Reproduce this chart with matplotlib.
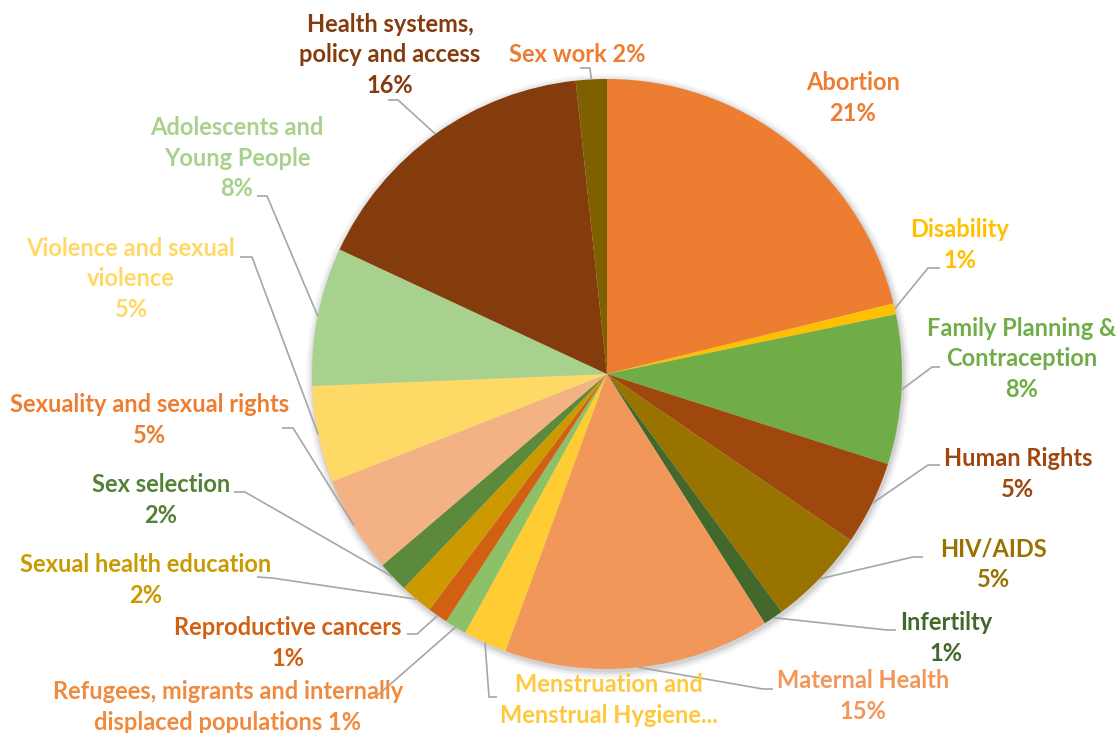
import numpy as np
import matplotlib
matplotlib.use("Agg")
import matplotlib.pyplot as plt
from matplotlib.patches import Circle

# ---- data ----
categories = ["Abortion", "Disability", "Family Planning &\nContraception", "Human Rights",
              "HIV/AIDS", "Infertilty", "Maternal Health", "Menstruation and\nMenstrual Hygiene...",
              "Refugees, migrants and internally\ndisplaced populations", "Reproductive cancers",
              "Sexual health education", "Sex selection", "Sexuality and sexual rights",
              "Violence and sexual\nviolence", "Adolescents and\nYoung People",
              "Health systems,\npolicy and access", "Sex work"]
values = [21.2, 0.6, 8.2, 4.6, 5.4, 1.1, 14.6, 2.4, 1.2, 1.1, 1.8, 1.7, 5.3, 5.3, 7.6, 16.4, 1.7]
colors = ["#ED7D31", "#FFC000", "#70AD47", "#9E480E", "#997300", "#43682B", "#F1975A",
          "#FFCD33", "#8CC168", "#D26012", "#CC9A00", "#5B8A3C", "#F4B183", "#FFD966",
          "#A9D18E", "#843C0C", "#7F6000"]
label_colors = ["#ED7D31", "#FFC000", "#70AD47", "#9E480E", "#997300", "#43682B", "#F1975A",
                "#FFC83D", "#F08A3E", "#D26012", "#C99A00", "#548235", "#ED7D31", "#FFD966",
                "#A9D18E", "#843C0C", "#ED7D31"]
# percentage placement: "nl" on next line, "sp" same line, "" none shown
pct_mode = ["nl"] * 17
pct_mode[7] = ""
pct_mode[8] = "sp"
pct_mode[16] = "sp"

W, H = 1117, 733
fig = plt.figure(figsize=(W / 100, H / 100), dpi=100)
ax = fig.add_axes([0, 0, 1, 1])

def P(x, y):
    return (x, H - y)

cx, cy = P(607, 374)
R = 295

# soft shadow
for dr, a in [(7, 0.03), (5, 0.04), (3, 0.05), (1.5, 0.06)]:
    ax.add_patch(Circle((cx + 1, cy - 2), R + dr, color="#000000", alpha=a, lw=0, zorder=0))

wedges, _ = ax.pie(values, colors=colors, startangle=90, counterclock=False,
                   center=(cx, cy), radius=R, frame=True,
                   wedgeprops=dict(linewidth=0, zorder=2))
ax.set_xlim(0, W)
ax.set_ylim(0, H)
ax.set_aspect("equal")
ax.axis("off")

total = sum(values)
# label layout: text center (pixel), leader elbow, leader end (pixel) or None
layout = [
    ((853, 98), None, None),
    ((960, 245), (928, 268), (940, 268)),
    ((1022, 359), (932, 367), (940, 367)),
    ((1018, 474), (928, 465), (940, 465)),
    ((993, 564), (913, 557), (923, 557)),
    ((946, 638), (887, 630), (896, 630)),
    ((863, 696), (763, 689), (773, 689)),
    ((609, 700), (489, 697), (497, 697)),
    ((228, 707), None, (378, 695)),
    ((288, 643), (417, 634), (407, 634)),
    ((146, 580), (272, 578), (257, 577)),
    ((161, 500), (245, 492), (234, 492)),
    ((150, 420), (293, 428), (282, 428)),
    ((131, 279), (252, 257), (240, 257)),
    ((237, 158), (267, 196), (257, 196)),
    ((390, 55), (398, 100), (388, 100)),
    ((577, 55), (590, 68), (580, 68)),
]

font = dict(family="Lato", weight="bold", fontsize=17)
for i, (w, name) in enumerate(zip(wedges, categories)):
    pct = "%.0f%%" % (values[i] / total * 100)
    if pct_mode[i] == "sp":
        txt = name + " " + pct
    elif pct_mode[i] == "nl":
        txt = name + "\n" + pct
    else:
        txt = name
    (tx, ty), elbow, end = layout[i]
    ax.text(*P(tx, ty), txt, ha="center", va="center", color=label_colors[i],
            linespacing=1.4, zorder=5, **font)
    if end is not None:
        mid = np.deg2rad((w.theta1 + w.theta2) / 2)
        ex, ey = cx + R * np.cos(mid), cy + R * np.sin(mid)
        pts = [(ex, ey)]
        if elbow is not None:
            pts.append(P(*elbow))
        pts.append(P(*end))
        xs, ys = zip(*pts)
        ax.plot(xs, ys, color="#A6A6A6", lw=1.2, zorder=3, solid_capstyle="butt")

fig.savefig("out.png", dpi=100, facecolor="white")
